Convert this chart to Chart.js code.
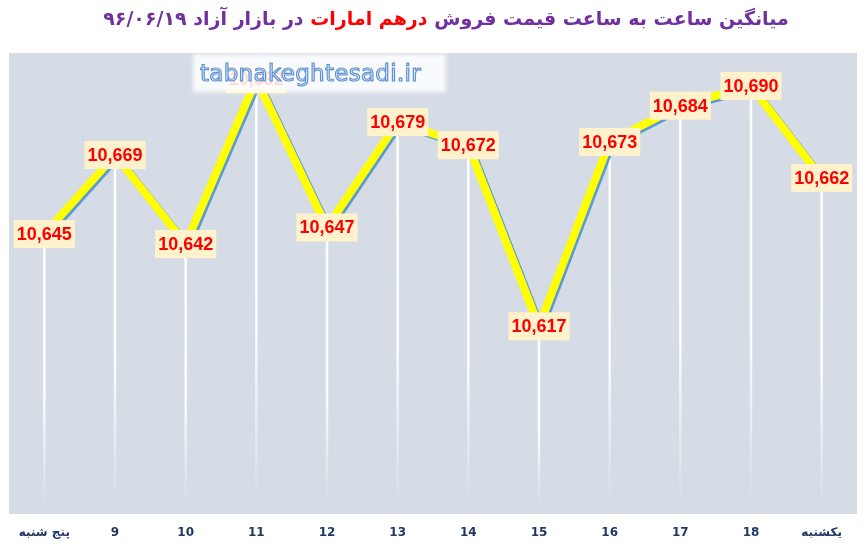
<!DOCTYPE html>
<html>
<head>
<meta charset="utf-8">
<script src="https://cdn.jsdelivr.net/npm/chart.js@4.4.1/dist/chart.umd.min.js"></script>
<style>
  html, body { margin: 0; padding: 0; background: #fff; }
  #wrap { position: relative; width: 864px; height: 545px; }
  #title {
    position: absolute; left: 0; top: 7px; width: 892px; text-align: center;
    direction: rtl; font-family: "DejaVu Sans", sans-serif; font-weight: bold;
    font-size: 19px; color: #7030A0; white-space: nowrap;
  }
  #title .red { color: #FF0000; }
  #mark {
    position: absolute; left: 196px; top: 57px; width: 247px; height: 32px;
    background: rgba(255,255,255,0.85); box-shadow: 0 0 4px 3px rgba(255,255,255,0.8);
    font-family: "DejaVu Sans", sans-serif; font-size: 23px; line-height: 32px;
    color: #e3eefa; -webkit-text-stroke: 1.2px #5f92d4; padding-left: 4px;
    box-sizing: border-box; letter-spacing: 0.3px;
  }
</style>
</head>
<body>
<div id="wrap">
  <canvas id="rateChart" width="864" height="545"></canvas>
  <div id="title">میانگین ساعت به ساعت قیمت فروش <span class="red">درهم امارات</span> در بازار آزاد ۹۶/۰۶/۱۹</div>
  <div id="mark">tabnakeghtesadi.ir</div>
</div>
<script>
// Hourly average sell price of UAE dirham (Rial)
const hours = ['پنج شنبه', '9', '10', '11', '12', '13', '14', '15', '16', '17', '18', 'یکشنبه'];
const prices = [10645, 10669, 10642, 10692, 10647, 10679, 10672, 10617, 10673, 10684, 10690, 10662];
const axisMin = 10560;
const axisMax = 10700;

const plotBackground = {
  id: 'plotBackground',
  beforeDraw(chart) {
    const { ctx, chartArea: a } = chart;
    ctx.save();
    ctx.fillStyle = '#D6DCE5';
    ctx.fillRect(a.left, a.top, a.right - a.left, a.bottom - a.top);
    ctx.restore();
  }
};

// white drop lines from each point down to the bottom
const dropLines = {
  id: 'dropLines',
  beforeDatasetsDraw(chart) {
    const { ctx, chartArea: a } = chart;
    const meta = chart.getDatasetMeta(0);
    ctx.save();
    ctx.lineWidth = 2.5;
    meta.data.forEach(pt => {
      const g = ctx.createLinearGradient(0, pt.y, 0, a.bottom - 8);
      g.addColorStop(0, 'rgba(255,255,255,1)');
      g.addColorStop(0.6, 'rgba(255,255,255,0.9)');
      g.addColorStop(1, 'rgba(255,255,255,0)');
      ctx.strokeStyle = g;
      ctx.beginPath();
      ctx.moveTo(pt.x, pt.y);
      ctx.lineTo(pt.x, a.bottom - 8);
      ctx.stroke();
    });
    ctx.restore();
  }
};

const lineShadow = {
  id: 'lineShadow',
  beforeDatasetDraw(chart) {
    const ctx = chart.ctx;
    ctx.save();
    ctx.shadowColor = '#5B9BD5';
    ctx.shadowBlur = 0;
    ctx.shadowOffsetX = 2;
    ctx.shadowOffsetY = 2;
  },
  afterDatasetDraw(chart) {
    chart.ctx.restore();
  }
};

const valueLabels = {
  id: 'valueLabels',
  afterDatasetsDraw(chart) {
    const { ctx } = chart;
    const meta = chart.getDatasetMeta(0);
    ctx.save();
    ctx.font = 'bold 18px "Liberation Sans", sans-serif';
    ctx.textAlign = 'center';
    ctx.textBaseline = 'middle';
    meta.data.forEach((pt, i) => {
      const txt = prices[i].toLocaleString('en-US');
      const w = ctx.measureText(txt).width + 6;
      const h = 28;
      ctx.fillStyle = '#FFF2CC';
      ctx.fillRect(pt.x - w / 2, pt.y - h / 2, w, h);
      ctx.fillStyle = '#FF0000';
      ctx.fillText(txt, pt.x, pt.y + 1);
    });
    ctx.restore();
  }
};

new Chart(document.getElementById('rateChart'), {
  type: 'line',
  data: {
    labels: hours,
    datasets: [{
      data: prices,
      borderColor: '#FFFF00',
      borderWidth: 8,
      pointRadius: 0,
      tension: 0,
      fill: false,
    }]
  },
  options: {
    responsive: false,
    animation: false,
    layout: {
      padding: { left: 9, right: 7, top: 53, bottom: 0 }
    },
    plugins: {
      legend: { display: false },
      tooltip: { enabled: false },
      title: { display: false },
    },
    scales: {
      x: {
        offset: true,
        grid: { display: false },
        border: { display: false },
        afterFit(scale) { scale.height = 31; },
        ticks: {
          color: '#1F3864',
          padding: 4,
          maxRotation: 0,
          autoSkip: false,
          font: { family: '"DejaVu Sans", sans-serif', size: 12, weight: 'bold' }
        }
      },
      y: {
        display: false,
        min: axisMin,
        max: axisMax,
      }
    }
  },
  plugins: [plotBackground, dropLines, lineShadow, valueLabels]
});
</script>
</body>
</html>
